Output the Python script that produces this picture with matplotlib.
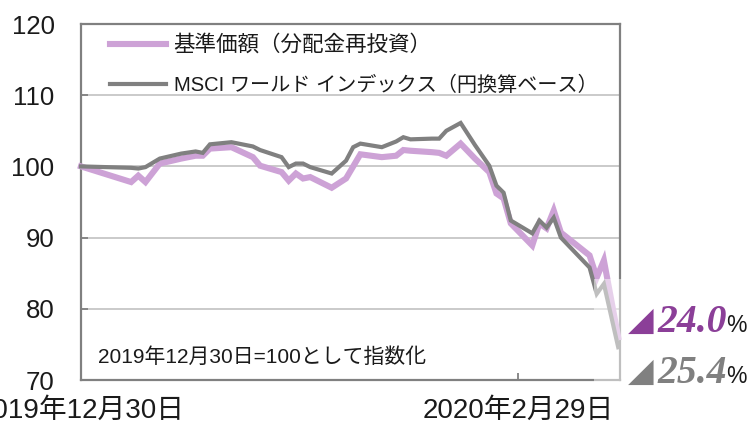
import numpy as np
import pandas as pd
import matplotlib
matplotlib.use("Agg")
import matplotlib.pyplot as plt
import matplotlib.dates as mdates
from matplotlib.patches import Rectangle

plt.rcParams['font.family'] = ['Liberation Sans', 'Noto Sans CJK JP', 'DejaVu Sans']

# values (index, 2019-12-30 = 100)
dates = pd.to_datetime([
    "2019-12-30", "2020-01-06", "2020-01-07", "2020-01-08", "2020-01-10",
    "2020-01-13", "2020-01-15", "2020-01-16", "2020-01-17", "2020-01-20",
    "2020-01-23", "2020-01-24", "2020-01-27", "2020-01-28", "2020-01-29",
    "2020-01-30", "2020-01-31", "2020-02-03", "2020-02-05", "2020-02-06",
    "2020-02-07", "2020-02-10", "2020-02-12", "2020-02-13", "2020-02-14",
    "2020-02-17", "2020-02-18", "2020-02-19", "2020-02-21", "2020-02-23",
    "2020-02-25", "2020-02-26", "2020-02-27", "2020-02-28", "2020-03-02",
    "2020-03-03", "2020-03-04", "2020-03-05", "2020-03-06", "2020-03-10",
    "2020-03-11", "2020-03-12", "2020-03-14",
])
fund = [
    100.0, 97.8, 98.7, 97.8, 100.4,
    101.1, 101.5, 101.5, 102.5, 102.7,
    101.3, 100.1, 99.2, 98.0, 99.0,
    98.3, 98.5, 97.0, 98.3, 100.0,
    101.7, 101.3, 101.5, 102.3, 102.2,
    102.0, 101.9, 101.5, 103.2, 101.1,
    99.2, 96.2, 95.5, 92.0, 88.9,
    92.0, 91.3, 93.8, 90.7, 87.5,
    84.4, 86.8, 76.0,
]
msci = [
    100.0, 99.8, 99.7, 99.9, 101.1,
    101.8, 102.1, 101.9, 103.1, 103.4,
    102.8, 102.3, 101.3, 99.9, 100.4,
    100.4, 99.9, 99.0, 100.8, 102.7,
    103.2, 102.7, 103.5, 104.1, 103.8,
    103.9, 103.9, 105.0, 106.1, 103.0,
    100.1, 97.3, 96.3, 92.4, 90.6,
    92.4, 91.4, 92.8, 90.0, 85.8,
    82.1, 83.5, 74.6,
]
labels = ["基準価額（分配金再投資）", "MSCI ワールド インデックス（円換算ベース）"]
xticks = pd.to_datetime(["2019-12-30", "2020-02-29"])
xticklabels = ["2019年12月30日", "2020年2月29日"]
changes = ["24.0", "25.4"]

pink = '#CDA2D6'
gray = '#808080'
purple = '#8B3F98'

W, H = 752, 428
fig = plt.figure(figsize=(W / 100, H / 100), dpi=100)
ax = fig.add_axes([81 / W, 1 - 380 / H, (620 - 81) / W, (380 - 24) / H])

ax.plot(dates, fund, color=pink, lw=4.4, solid_joinstyle='miter', label=labels[0], zorder=3, clip_on=False)
ax.plot(dates, msci, color=gray, lw=3.0, solid_joinstyle='miter', label=labels[1], zorder=4, clip_on=False)

ax.set_xlim(pd.Timestamp("2019-12-30"), pd.Timestamp("2020-03-14 06:00"))
ax.set_ylim(70, 120)
ax.set_yticks([70, 80, 90, 100, 110, 120])
ax.set_xticks(xticks)
ax.set_xticklabels(xticklabels)
for y in [80, 90, 100, 110]:
    ax.axhline(y, color='#c6c6c6', lw=1.3, zorder=1)

for s in ax.spines.values():
    s.set_color(gray)
    s.set_linewidth(1.6)
ax.tick_params(axis='y', direction='in', length=5, width=1.3, color=gray,
               labelsize=18.5, pad=19, labelcolor='#1a1a1a')
ax.tick_params(axis='x', direction='in', length=5, width=1.3, color=gray,
               labelsize=20, pad=13, labelcolor='#1a1a1a')

leg = ax.legend(loc='upper left', bbox_to_anchor=(110 / W, 1 - 35 / H), bbox_transform=fig.transFigure,
                frameon=False, fontsize=15, handlelength=2.7, handletextpad=0.35,
                labelspacing=0.95, borderpad=0, borderaxespad=0)
leg_texts = leg.get_texts()
leg_texts[0].set_fontsize(15.5)
leg_texts[1].set_fontsize(14.5)
for t in leg_texts:
    t.set_color('#1a1a1a')

ax.text(98 / W, 1 - 357 / H, "2019年12月30日=100として指数化", transform=fig.transFigure,
        fontsize=15, color='#1a1a1a', va='center', ha='left')

# faint white overlay near the end of the lines (as in the source image)
fig.patches.append(Rectangle((594 / W, 1 - 387 / H), 28 / W, 108 / H, transform=fig.transFigure,
                             facecolor='white', alpha=0.5, edgecolor='none', zorder=10))

for (val, col, base) in [(changes[0], purple, 332), (changes[1], gray, 383)]:
    fig.text(628 / W, 1 - (base - 2) / H, "◢", color=col, fontsize=24, family='DejaVu Sans', va='baseline')
    fig.text(657 / W, 1 - base / H, val, color=col, fontsize=28.5, family='Liberation Serif',
             weight='bold', style='italic', va='baseline')
    fig.text(726 / W, 1 - base / H, "%", color='#1a1a1a', fontsize=16.5, va='baseline')

fig.savefig("out.png", dpi=100)
